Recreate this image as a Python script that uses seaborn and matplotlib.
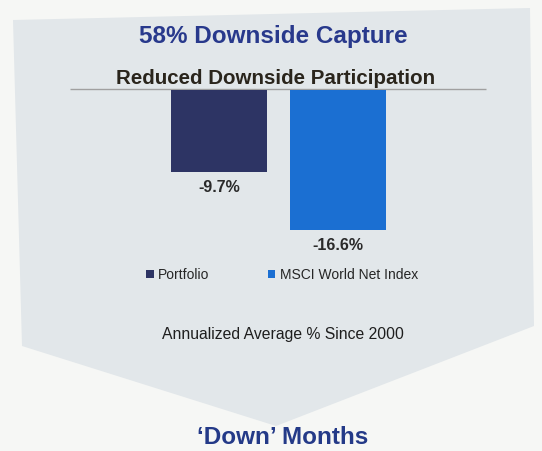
import matplotlib
matplotlib.use("Agg")
import matplotlib.pyplot as plt
import seaborn as sns
import pandas as pd
from matplotlib.patches import Polygon, Patch

# Chart content
categories = ["Portfolio", "MSCI World Net Index"]
values = [-9.7, -16.6]
bar_colors = ["#2d3464", "#1b6fd2"]
title = "58% Downside Capture"
subtitle = "Reduced Downside Participation"
caption = "Annualized Average % Since 2000"
footer = "\u2018Down\u2019 Months"

sns.set_theme(style="white")
plt.rcParams["font.family"] = ["Liberation Sans", "DejaVu Sans"]

W, H = 542, 451
fig = plt.figure(figsize=(W / 100, H / 100), dpi=100)
fig.patch.set_facecolor("#f6f7f5")

# Background layer in pixel coordinates (y downwards)
bg = fig.add_axes([0, 0, 1, 1])
bg.set_xlim(0, W)
bg.set_ylim(H, 0)
bg.axis("off")
arrow_shape = [(13, 20), (530, 8), (534, 326), (276, 426), (22, 346)]
bg.add_patch(Polygon(arrow_shape, closed=True, facecolor="#e2e7ea", edgecolor="none"))
bg.plot([70, 486], [89, 89], color="#a0a0a0", lw=1, solid_capstyle="butt")

bg.text(273, 37, title, ha="center", va="center", fontsize=17.5,
        fontweight="bold", color="#28398c")
bg.text(276, 79, subtitle, ha="center", va="center", fontsize=14.8,
        fontweight="bold", color="#2a251c")
bg.text(283, 335, caption, ha="center", va="center", fontsize=11.3,
        color="#1e1e1e")
bg.text(283, 438, footer, ha="center", va="center", fontsize=17.5,
        fontweight="bold", color="#243a88")

# Bar chart
df = pd.DataFrame({"series": categories, "value": values})
ax = fig.add_axes([100 / W, 1 - 240 / H, 357 / W, 150 / H])
sns.barplot(data=df, x="series", y="value", hue="series", palette=bar_colors,
            order=categories, hue_order=categories, width=0.8, legend=False,
            saturation=1, linewidth=0, edgecolor="none", ax=ax)
ax.set_xlim(-1, 2)
ax.set_ylim(-17.8, 0)
ax.axis("off")
ax.patch.set_alpha(0)
for cont in ax.containers:
    ax.bar_label(cont, fmt="%.1f%%", padding=6, fontsize=11.5,
                 fontweight="bold", color="#2a2a2a")

handles = [Patch(facecolor=c, edgecolor="none") for c in bar_colors]
fig.legend(handles, categories, loc="center", bbox_to_anchor=(282 / W, 1 - 275 / H),
           ncol=2, frameon=False, fontsize=10, handlelength=0.55, handleheight=0.55,
           handletextpad=0.3, columnspacing=4.2)

fig.savefig("out.png", dpi=100, facecolor=fig.get_facecolor())
